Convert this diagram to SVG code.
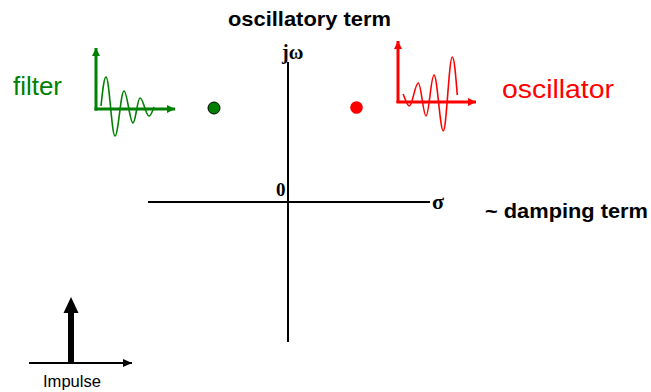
<svg xmlns="http://www.w3.org/2000/svg" width="651" height="392" viewBox="0 0 651 392">
<style>
.bold{font-family:"Liberation Sans",Arial,sans-serif;font-weight:bold;fill:#000}
.serif{font-family:"Liberation Serif","Times New Roman",serif;font-weight:bold;fill:#000}
.axis{stroke:#000;stroke-width:2;fill:none}
.gax{stroke:#008000;stroke-width:3;fill:none}
.rax{stroke:#ff0000;stroke-width:3;fill:none}
.wave{fill:none;stroke-width:1.6}
</style>
<defs>
<marker id="ag" markerUnits="userSpaceOnUse" markerWidth="10" markerHeight="10" viewBox="0 0 10 10" refX="9" refY="5" orient="auto"><path d="M1,1 L9,5 L1,9 Z" fill="#008000"/></marker>
<marker id="ar" markerUnits="userSpaceOnUse" markerWidth="10" markerHeight="10" viewBox="0 0 10 10" refX="9" refY="5" orient="auto"><path d="M1,1 L9,5 L1,9 Z" fill="#ff0000"/></marker>
<marker id="ak" markerUnits="userSpaceOnUse" markerWidth="10" markerHeight="10" viewBox="0 0 10 10" refX="9" refY="5" orient="auto"><path d="M0,1 L9,5 L0,9 Z" fill="#000"/></marker>
</defs>
<rect width="651" height="392" fill="#fff"/>
<g id="connectors">
<g id="s-plane-axes">
<line class="axis" x1="288" y1="62" x2="288" y2="342"/>
<line class="axis" x1="148" y1="202" x2="430" y2="202"/>
</g>
</g>
<g id="axis-labels">
<text class="serif" x="282" y="59" font-size="20">jω</text>
<text class="serif" x="276" y="196" font-size="19">0</text>
<text class="serif" x="432" y="209" font-size="22">σ</text>
</g>
<g id="title-oscillatory">
<text class="bold" x="228" y="26" font-size="21" textLength="163" lengthAdjust="spacingAndGlyphs">oscillatory term</text>
</g>
<g id="title-damping">
<text class="bold" x="485" y="218" font-size="21" textLength="163" lengthAdjust="spacingAndGlyphs">~ damping term</text>
</g>
<g id="filter">
<text x="13" y="95" font-family="'Liberation Sans',Arial,sans-serif" font-size="26" fill="#008000" textLength="49" lengthAdjust="spacingAndGlyphs">filter</text>
<line class="gax" x1="96" y1="110.5" x2="96" y2="48" marker-end="url(#ag)"/>
<line class="gax" x1="94.5" y1="109" x2="175" y2="109" marker-end="url(#ag)"/>
<path class="wave" stroke="#008000" d="M101,106 C102.5,92 104,77 106,77 C109.3,77 111.7,136 115,136 C118.3,136 120.7,91 124,91 C127.2,91 129.8,123 133,123 C135.5,123 137.5,98 140,98 C143.3,98 145.7,116 149,116 C151,116 153,110 154,107"/>
</g>
<g id="pole-filter">
<circle cx="214" cy="108" r="6" fill="#008000" stroke="#000" stroke-width="1"/>
</g>
<g id="pole-oscillator">
<circle cx="356.5" cy="107.5" r="6.3" fill="#ff0000"/>
</g>
<g id="oscillator">
<text x="502" y="98" font-family="'Liberation Sans',Arial,sans-serif" font-size="26" fill="#ff0000" textLength="112" lengthAdjust="spacingAndGlyphs">oscillator</text>
<line class="rax" x1="398" y1="103" x2="398" y2="41" marker-end="url(#ar)"/>
<line class="rax" x1="396.5" y1="102" x2="476" y2="102" marker-end="url(#ar)"/>
<path class="wave" stroke="#ff0000" d="M403,94 C405,98 407,106 409.3,106 C412.5,106 415,83 418.3,83 C421,83 423.3,116 426,116 C429,116 431,75 434,75 C437.3,75 440,131 443.3,131 C446.5,131 449,57 452.3,57 C454.5,57 456,80 457.3,95"/>
</g>
<g id="impulse">
<line class="axis" x1="29" y1="363" x2="132" y2="363" marker-end="url(#ak)"/>
<rect x="68" y="311" width="6" height="52" fill="#000"/>
<path d="M71,297 L78.5,313 L63.5,313 Z" fill="#000"/>
<text x="43" y="387" font-family="'Liberation Sans',Arial,sans-serif" font-size="17" fill="#000" textLength="58" lengthAdjust="spacingAndGlyphs">Impulse</text>
</g>
</svg>
